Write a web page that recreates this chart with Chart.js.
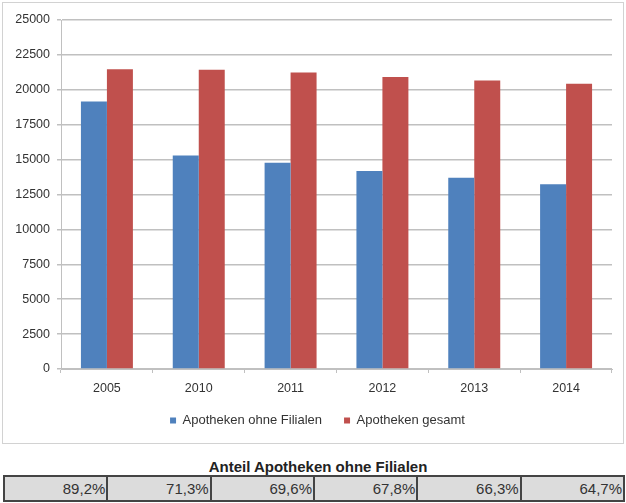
<!DOCTYPE html>
<html>
<head>
<meta charset="utf-8">
<script src="https://cdn.jsdelivr.net/npm/chart.js@4.4.1/dist/chart.umd.min.js"></script>
<style>
  body { margin: 0; background: #fff; width: 626px; height: 503px; position: relative; font-family: "Liberation Sans", Arial, sans-serif; }
  #box { position: absolute; left: 2px; top: 2px; width: 622px; height: 442px; border: 1px solid #d2d2d2; box-sizing: border-box; }
  #chart { display: block; }
  #title { position: absolute; left: 0; top: 458px; width: 636px; text-align: center; font-weight: bold; font-size: 15px; color: #222; }
  #anteil { position: absolute; left: 3px; top: 475px; width: 622px; height: 27px; border-collapse: collapse; table-layout: fixed; }
  #anteil td { background: #dcdcdc; border: 2px solid #444; text-align: right; font-size: 15px; color: #333; padding: 0 1px 0 0; }
</style>
</head>
<body>
<div id="box"><canvas id="chart" width="620" height="440"></canvas></div>
<div id="title">Anteil Apotheken ohne Filialen</div>
<table id="anteil"><tr id="anteilRow"></tr></table>
<script>
const years = ["2005", "2010", "2011", "2012", "2013", "2014"];
const ohneFilialen = [19160, 15290, 14780, 14190, 13700, 13230];
const gesamt = [21480, 21440, 21240, 20920, 20660, 20440];
const anteil = ["89,2%", "71,3%", "69,6%", "67,8%", "66,3%", "64,7%"];

const row = document.getElementById("anteilRow");
anteil.forEach(a => {
    const td = document.createElement("td");
    td.textContent = a;
    row.appendChild(td);
});

const gridColor = "#c0c0c0";
const tickFont = { family: "Liberation Sans", size: 12.5 };

// legend sits a bit right of the canvas centre in the original
const shiftLegend = {
    id: "shiftLegend",
    afterLayout(chart) {
        chart.legend.left += 10;
        chart.legend.right += 10;
    }
};

new Chart(document.getElementById("chart"), {
    type: "bar",
    data: {
        labels: years,
        datasets: [{
            label: "Apotheken ohne Filialen",
            data: ohneFilialen,
            backgroundColor: "#4f81bd"
        }, {
            label: "Apotheken gesamt",
            data: gesamt,
            backgroundColor: "#c0504d"
        }]
    },
    options: {
        responsive: false,
        animation: false,
        layout: { padding: { top: 17, right: 11, left: 0, bottom: 6 } },
        datasets: { bar: { categoryPercentage: 0.566, barPercentage: 1.0 } },
        scales: {
            x: {
                grid: { drawOnChartArea: false, color: gridColor, tickLength: 4 },
                border: { color: gridColor },
                ticks: { color: "#333", font: tickFont, padding: 8 },
                afterFit: s => { s.height = 23; }
            },
            y: {
                min: 0,
                max: 25000,
                grid: { color: gridColor, lineWidth: 1.5, tickLength: 4 },
                border: { color: gridColor },
                ticks: {
                    stepSize: 2500,
                    color: "#333",
                    font: tickFont,
                    padding: 7,
                    callback: v => String(v)
                },
                afterFit: s => { s.width = 58; }
            }
        },
        plugins: {
            legend: {
                position: "bottom",
                labels: {
                    boxWidth: 6,
                    boxHeight: 6,
                    padding: 22,
                    color: "#333",
                    font: { family: "Liberation Sans", size: 13 }
                }
            },
            tooltip: { enabled: false }
        }
    },
    plugins: [shiftLegend]
});
</script>
</body>
</html>
